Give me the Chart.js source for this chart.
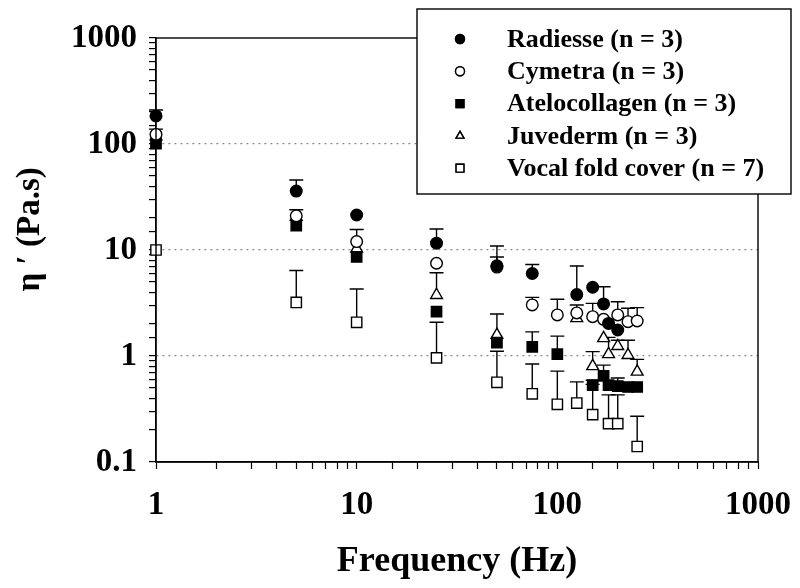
<!DOCTYPE html>
<html lang="en">
<head>
  <meta charset="UTF-8">
  <title>Dynamic viscosity vs frequency</title>
  <script src="https://cdn.jsdelivr.net/npm/chart.js"></script>
  <style>
    html, body { margin: 0; padding: 0; background: #fff; }
    .wrap { width: 800px; height: 588px; position: relative; }
  </style>
</head>
<body>
  <div class="wrap"><canvas id="etaChart"></canvas></div>

  <script>
    // frequencies (Hz) shared by all series, null = no point at that frequency
    const freqs = [1, 5, 10, 25, 50, 75, 100, 125, 150, 170, 180, 200, 225, 250];

    const labels = ['Radiesse (n = 3)', 'Cymetra (n = 3)', 'Atelocollagen (n = 3)', 'Juvederm (n = 3)', 'Vocal fold cover (n = 7)'];

    // mean values (Pa.s)
    const radiesse      = [184, 36, 21.4, 11.6, 7.1, 6.0, null, 3.8, 4.45, 3.1, 2.03, 1.76, null, null];
    const cymetra       = [123, 21, 12, 7.5, 6.9, 3.03, 2.44, 2.55, 2.35, 2.22, null, 2.44, 2.11, 2.14];
    const atelocollagen = [101, 17, 8.6, 2.62, 1.34, 1.22, 1.04, null, 0.53, 0.65, 0.53, 0.52, 0.51, 0.51];
    const juvederm      = [118, 20.5, 10.3, 3.76, 1.58, null, null, 2.27, 0.80, 1.47, 1.04, 1.24, 1.02, 0.71];
    const vocalFold     = [10, 3.2, 2.08, 0.96, 0.565, 0.44, 0.35, 0.36, 0.28, null, 0.23, 0.23, null, 0.14];

    // top of the error bar (mean + SD), null = no visible bar
    const radiesseTop      = [209, 45.7, null, 15.8, 10.9, 7.3, null, 7.07, null, 4.5, null, null, null, null];
    const cymetraTop       = [138, 24, 15.6, null, 8.6, 3.57, 3.43, 3.03, 3.14, null, null, 3.25, 2.82, 2.86];
    const atelocollagenTop = [null, null, null, null, null, 1.69, 1.54, null, 0.59, 0.82, null, 0.62, null, null];
    const juvedermTop      = [null, null, null, 6.1, 2.49, null, null, null, 1.10, null, 1.5, 1.41, 1.41, 0.93];
    const vocalFoldTop     = [null, 6.4, 4.28, 2.08, 1.11, 0.84, 0.72, 0.57, 0.54, null, 0.43, 0.43, null, 0.27];

    const serif = '"Liberation Serif", "Times New Roman", serif';
    Chart.defaults.font.family = serif;
    Chart.defaults.color = '#000';

    function punten(vals, tops) {
      const out = [];
      freqs.forEach(function(f, i) {
        if (vals[i] !== null) out.push({ x: f, y: vals[i], top: tops[i] });
      });
      return out;
    }

    function serie(label, vals, tops, style, fill, radius) {
      return {
        label: label,
        data: punten(vals, tops),
        pointStyle: style,
        pointRadius: radius,
        pointHoverRadius: radius,
        pointBackgroundColor: fill,
        pointBorderColor: '#000',
        pointBorderWidth: 1.4,
        showLine: false,
        clip: false
      };
    }

    function isDecade(v) {
      const l = Math.log10(v);
      return Math.abs(l - Math.round(l)) < 1e-6;
    }
    function fmt(v) {
      return v >= 1 ? String(Math.round(v)) : v.toFixed(1);
    }

    // upper error bars (T shape), drawn under the markers
    const errorBars = {
      id: 'errorBars',
      beforeDatasetsDraw(chart) {
        const ctx = chart.ctx;
        const xs = chart.scales.x, ys = chart.scales.y;
        ctx.save();
        ctx.strokeStyle = '#000';
        ctx.lineWidth = 1.4;
        chart.data.datasets.forEach(function(ds) {
          ds.data.forEach(function(p) {
            if (p.top == null) return;
            const px = xs.getPixelForValue(p.x);
            const py = ys.getPixelForValue(p.y);
            const pt = ys.getPixelForValue(p.top);
            ctx.beginPath();
            ctx.moveTo(px, py);
            ctx.lineTo(px, pt);
            ctx.moveTo(px - 7, pt);
            ctx.lineTo(px + 7, pt);
            ctx.stroke();
          });
        });
        ctx.restore();
      }
    };

    // box round the plot area
    const frame = {
      id: 'frame',
      afterDatasetsDraw(chart) {
        const a = chart.chartArea, ctx = chart.ctx;
        ctx.save();
        ctx.strokeStyle = '#000';
        ctx.lineWidth = 1.4;
        ctx.strokeRect(a.left, a.top, a.right - a.left, a.bottom - a.top);
        ctx.restore();
      }
    };

    // legend box in the top right corner
    const legendBox = {
      id: 'legendBox',
      afterDraw(chart) {
        const ctx = chart.ctx;
        const bx = 417, by = 9, bw = 374, bh = 185;
        ctx.save();
        ctx.fillStyle = '#fff';
        ctx.fillRect(bx, by, bw, bh);
        ctx.strokeStyle = '#000';
        ctx.lineWidth = 1.4;
        ctx.strokeRect(bx, by, bw, bh);
        ctx.font = 'bold 26px ' + serif;
        ctx.textBaseline = 'middle';
        chart.data.datasets.forEach(function(ds, i) {
          const cy = 39 + i * 32.3;
          Chart.helpers.drawPoint(ctx, {
            pointStyle: ds.pointStyle,
            radius: ds.pointStyle === 'rect' ? 5.5 : 4.5,
            borderWidth: 1.2
          }, 460, cy);
          ctx.fillStyle = ds.pointBackgroundColor;
          ctx.strokeStyle = '#000';
          ctx.fill();
          ctx.stroke();
          ctx.fillStyle = '#000';
          ctx.fillText(ds.label, 507, cy + 1);
        });
        ctx.restore();
      }
    };

    const ctx = document.getElementById('etaChart').getContext('2d');
    const chart = new Chart(ctx, {
      type: 'scatter',
      data: {
        datasets: [
          serie(labels[0], radiesse, radiesseTop, 'circle', '#000', 5.8),
          serie(labels[1], cymetra, cymetraTop, 'circle', '#fff', 5.8),
          serie(labels[2], atelocollagen, atelocollagenTop, 'rect', '#000', 7.3),
          serie(labels[3], juvederm, juvedermTop, 'triangle', '#fff', 6.8),
          serie(labels[4], vocalFold, vocalFoldTop, 'rect', '#fff', 7.3)
        ]
      },
      options: {
        responsive: true,
        maintainAspectRatio: false,
        animation: false,
        layout: { padding: { left: 0, right: 42, top: 38, bottom: 0 } },
        plugins: {
          legend: { display: false },
          tooltip: { enabled: false }
        },
        scales: {
          x: {
            type: 'logarithmic',
            min: 1,
            max: 1000,
            afterFit: function(s) {
              s.height = 126;
              s.paddingLeft = 0;
              s.paddingRight = 0;
            },
            grid: {
              drawOnChartArea: false,
              tickColor: '#000',
              tickLength: 7,
              tickWidth: 1.2
            },
            border: { color: '#000', width: 1.4 },
            ticks: {
              autoSkip: false,
              maxRotation: 0,
              padding: 17,
              font: { size: 33, weight: 'bold' },
              callback: function(v) { return isDecade(v) ? fmt(v) : ''; }
            },
            title: {
              display: true,
              text: 'Frequency (Hz)',
              font: { size: 36, weight: 'bold' },
              padding: { top: 0, bottom: 5 }
            }
          },
          y: {
            type: 'logarithmic',
            min: 0.1,
            max: 1000,
            afterFit: function(s) {
              s.width = 156;
              s.paddingTop = 0;
              s.paddingBottom = 0;
            },
            grid: {
              color: function(c) {
                const v = c.tick ? c.tick.value : 0;
                return (v > 0.1 && v < 1000 && isDecade(v)) ? '#8a8a8a' : 'rgba(0,0,0,0)';
              },
              lineWidth: 1.2,
              tickColor: '#000',
              tickLength: 7,
              tickWidth: 1.2
            },
            border: { color: '#000', width: 1.4, dash: [2, 4] },
            ticks: {
              autoSkip: false,
              padding: 12,
              font: { size: 33, weight: 'bold' },
              callback: function(v) { return isDecade(v) ? fmt(v) : ''; }
            },
            title: {
              display: true,
              // leading spaces lift the rotated title slightly above the axis centre, as in the original
              text: '     η ′ (Pa.s)',
              font: { size: 33, weight: 'bold' },
              padding: { top: 11, bottom: 0 }
            }
          }
        }
      },
      plugins: [errorBars, frame, legendBox]
    });
  </script>
</body>
</html>
